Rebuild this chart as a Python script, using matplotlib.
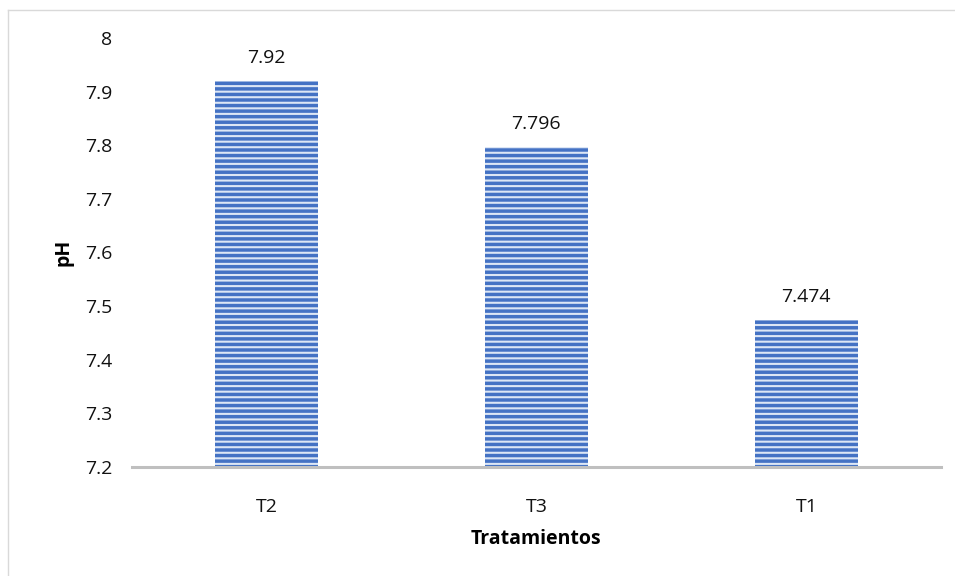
import matplotlib.pyplot as plt
from matplotlib.lines import Line2D

# data
tratamientos = ['T2', 'T3', 'T1']
ph_values = [7.92, 7.796, 7.474]
value_labels = ['7.92', '7.796', '7.474']

plt.rcParams['font.family'] = ['Open Sans', 'DejaVu Sans']
plt.rcParams['hatch.linewidth'] = 1.5
plt.rcParams['hatch.color'] = '#DCE6F5'

fig = plt.figure(figsize=(9.55, 5.76), dpi=100)
ax = fig.add_axes([0.1377, 0.1892, 0.848, 0.745])

bars = ax.bar(tratamientos, ph_values, width=0.38, bottom=0,
              color='#4472C4', edgecolor='#DCE6F5', linewidth=0, hatch='---')

for bar, lab in zip(bars, value_labels):
    ax.annotate(lab, (bar.get_x() + bar.get_width() / 2, bar.get_height()),
                xytext=(0, 10), textcoords='offset points',
                ha='center', va='bottom', fontsize=14, color='#111111')

ax.set_ylim(7.2, 8.0)
ax.set_xlim(-0.5, 2.5)
ax.set_yticks([7.2, 7.3, 7.4, 7.5, 7.6, 7.7, 7.8, 7.9, 8.0])
ax.set_yticklabels(['7.2', '7.3', '7.4', '7.5', '7.6', '7.7', '7.8', '7.9', '8'])

for s in ['top', 'right', 'left']:
    ax.spines[s].set_visible(False)
ax.spines['bottom'].set_color('#BFBFBF')
ax.spines['bottom'].set_linewidth(2.2)
ax.tick_params(axis='both', length=0, labelsize=14, colors='#111111')
ax.tick_params(axis='y', pad=14)
ax.tick_params(axis='x', pad=22)

ax.set_ylabel('pH', fontsize=14, fontweight='bold', labelpad=8)
ax.set_xlabel('Tratamientos', fontsize=14, fontweight='bold', labelpad=10)

# chart area border (top and left visible)
fig.add_artist(Line2D([8 / 955, 8 / 955], [0, 1 - 10 / 576], transform=fig.transFigure,
                      color='#D9D9D9', linewidth=1))
fig.add_artist(Line2D([8 / 955, 1], [1 - 10 / 576, 1 - 10 / 576], transform=fig.transFigure,
                      color='#D9D9D9', linewidth=1))

plt.savefig('out.png', dpi=100)
